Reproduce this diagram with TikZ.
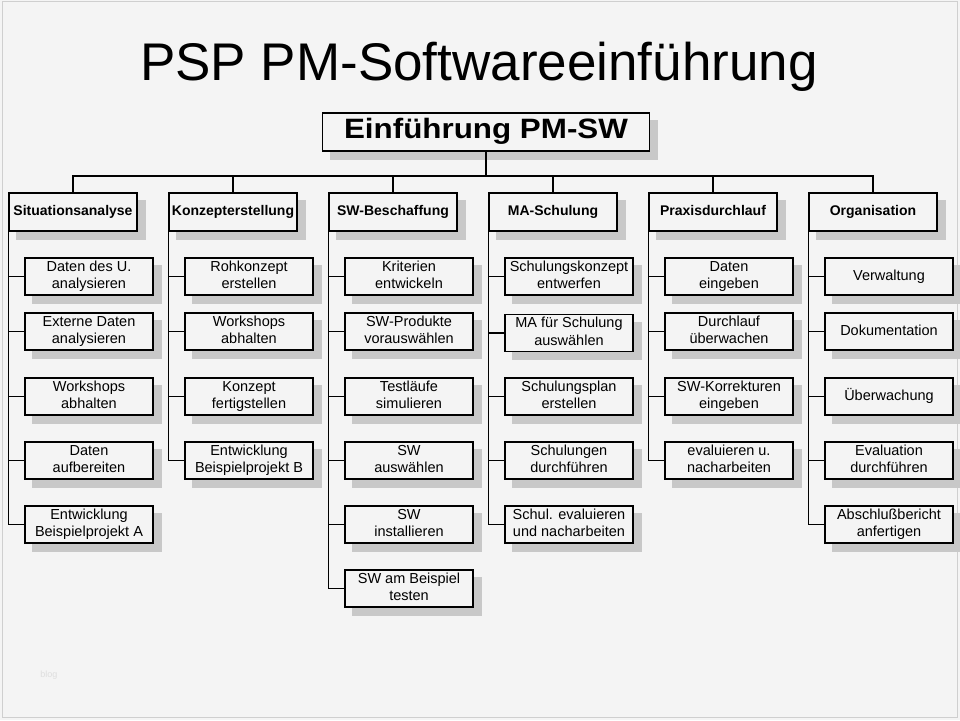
\documentclass[tikz,border=0pt]{standalone}
\usepackage{graphicx}
\usepackage{fontspec}
\setmainfont{Liberation Sans}
\definecolor{bgc}{HTML}{F4F4F4}
\definecolor{shc}{HTML}{C8C8C8}
\definecolor{brc}{HTML}{CFCFCF}
\newcommand{\wbsstrut}{\rule[-0.2\baselineskip]{0pt}{0.8\baselineskip}}
\tikzset{
  conn/.style={draw=black, line width=1.2pt},
  wbox/.style={draw=black, line width=1.2pt, fill=bgc, minimum width=128pt, minimum height=37pt,
    inner sep=0pt, align=center, font=\fontsize{14.5}{17.5}\selectfont},
  hdbox/.style={wbox, minimum height=38pt, font=\fontsize{14}{17}\selectfont\bfseries},
  rootbox/.style={wbox, minimum width=327pt, minimum height=38pt, font=\fontsize{28}{32}\selectfont\bfseries}
}
% #1 style, #2 name, #3 x, #4 y, #5 text
\newcommand{\wbsbox}[5]{%
  \node[#1] (#2) at (#3,#4) {\wbsstrut #5\wbsstrut};
  \begin{pgfonlayer}{background}
  \fill[shc] ([xshift=8pt,yshift=-8pt]#2.south west) rectangle ([xshift=8pt,yshift=-8pt]#2.north east);
  \end{pgfonlayer}
}
\pgfdeclarelayer{background}
\pgfdeclarelayer{bottom}
\pgfsetlayers{bottom,background,main}
\begin{document}
\begin{tikzpicture}[x=1pt, y=-1pt]
\begin{pgfonlayer}{bottom}
\fill[bgc] (0,0) rectangle (960,720);
\draw[brc, line width=1pt] (2,1) rectangle (957,717);
\end{pgfonlayer}
\useasboundingbox (0,0) rectangle (960,720);

\node[anchor=base, font=\fontsize{53}{60}\selectfont, inner sep=0pt] (title) at (479,80) {PSP PM-Softwareeinführung};

\wbsbox{rootbox}{root}{486}{132}{\scalebox{1.12}[1]{Einführung PM-SW}}

% headers
\wbsbox{hdbox}{h1}{73}{212}{Situationsanalyse}
\wbsbox{hdbox}{h2}{233}{212}{Konzepterstellung}
\wbsbox{hdbox}{h3}{393}{212}{SW-Beschaffung}
\wbsbox{hdbox}{h4}{553}{212}{MA-Schulung}
\wbsbox{hdbox}{h5}{713}{212}{Praxisdurchlauf}
\wbsbox{hdbox}{h6}{873}{212}{Organisation}

% column 1
\wbsbox{wbox}{a1}{89}{276.5}{Daten des U.\\analysieren}
\wbsbox{wbox}{a2}{89}{331.5}{Externe Daten\\analysieren}
\wbsbox{wbox}{a3}{89}{396.5}{Workshops\\abhalten}
\wbsbox{wbox}{a4}{89}{460.5}{Daten\\aufbereiten}
\wbsbox{wbox}{a5}{89}{524.5}{Entwicklung\\Beispielprojekt A}
% column 2
\wbsbox{wbox}{b1}{249}{276.5}{Rohkonzept\\erstellen}
\wbsbox{wbox}{b2}{249}{331.5}{Workshops\\abhalten}
\wbsbox{wbox}{b3}{249}{396.5}{Konzept\\fertigstellen}
\wbsbox{wbox}{b4}{249}{460.5}{Entwicklung\\Beispielprojekt B}
% column 3
\wbsbox{wbox}{c1}{409}{276.5}{Kriterien\\entwickeln}
\wbsbox{wbox}{c2}{409}{331.5}{SW-Produkte\\vorauswählen}
\wbsbox{wbox}{c3}{409}{396.5}{Testläufe\\simulieren}
\wbsbox{wbox}{c4}{409}{460.5}{SW\\auswählen}
\wbsbox{wbox}{c5}{409}{524.5}{SW\\installieren}
\wbsbox{wbox}{c6}{409}{588.5}{SW am Beispiel\\testen}
% column 4
\wbsbox{wbox}{d1}{569}{276.5}{Schulungskonzept\\entwerfen}
\wbsbox{wbox}{d2}{569}{333}{MA für Schulung\\auswählen}
\wbsbox{wbox}{d3}{569}{396.5}{Schulungsplan\\erstellen}
\wbsbox{wbox}{d4}{569}{460.5}{Schulungen\\durchführen}
\wbsbox{wbox}{d5}{569}{524.5}{Schul. evaluieren\\und nacharbeiten}
% column 5
\wbsbox{wbox}{e1}{729}{276.5}{Daten\\eingeben}
\wbsbox{wbox}{e2}{729}{331.5}{Durchlauf\\überwachen}
\wbsbox{wbox}{e3}{729}{396.5}{SW-Korrekturen\\eingeben}
\wbsbox{wbox}{e4}{729}{460.5}{evaluieren u.\\nacharbeiten}
% column 6
\wbsbox{wbox}{f1}{889}{276.5}{Verwaltung}
\wbsbox{wbox}{f2}{889}{331.5}{Dokumentation}
\wbsbox{wbox}{f3}{889}{396.5}{Überwachung}
\wbsbox{wbox}{f4}{889}{460.5}{Evaluation\\durchführen}
\wbsbox{wbox}{f5}{889}{524.5}{Abschlußbericht\\anfertigen}

% connectors
\coordinate (bus) at (0,176);
\foreach \h in {h1,h2,h3,h4,h5,h6}{
  \draw[conn] (root.south) -- (root.south |- bus) -| (\h.north);
}
\foreach \c in {a1,a2,a3,a4,a5}{ \draw[conn] (h1.south west) |- (\c.west); }
\foreach \c in {b1,b2,b3,b4}{ \draw[conn] (h2.south west) |- (\c.west); }
\foreach \c in {c1,c2,c3,c4,c5,c6}{ \draw[conn] (h3.south west) |- (\c.west); }
\foreach \c in {d1,d2,d3,d4,d5}{ \draw[conn] (h4.south west) |- (\c.west); }
\foreach \c in {e1,e2,e3,e4}{ \draw[conn] (h5.south west) |- (\c.west); }
\foreach \c in {f1,f2,f3,f4,f5}{ \draw[conn] (h6.south west) |- (\c.west); }

\node[text=black!13, font=\fontsize{9}{11}\selectfont, inner sep=0pt] (blog) at (49,675) {blog};
\end{tikzpicture}
\end{document}
